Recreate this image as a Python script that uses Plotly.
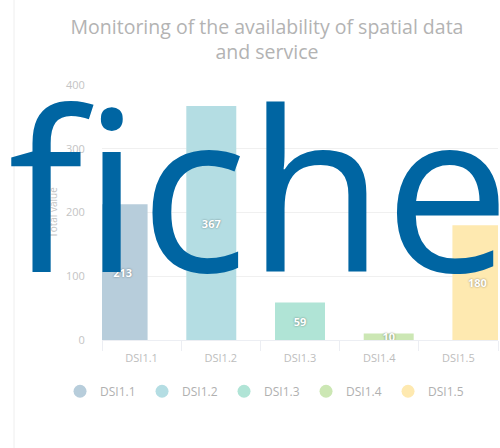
import plotly.graph_objects as go

categories = ["DSI1.1", "DSI1.2", "DSI1.3", "DSI1.4", "DSI1.5"]
values = [213, 367, 59, 10, 180]
colors = ["#b7cddb", "#b4dde3", "#b0e4d6", "#cce7b4", "#fee9b0"]
y_ticks = [0, 100, 200, 300, 400]
title_text = "Monitoring of the availability of spatial data<br>and service"
y_title = "Total value"
overlay_text = "fiche"

# grouping layout (Highcharts-like slots)
bar_width = 0.631
slot_centers = [-0.24, -0.12, 0.0, 0.12, 0.24]

fig = go.Figure()
for i, (cat, val, col) in enumerate(zip(categories, values, colors)):
    fig.add_trace(go.Bar(
        x=[cat], y=[val], name=cat, showlegend=False,
        marker=dict(color=col, line=dict(width=0)),
        width=bar_width, offset=slot_centers[i] - bar_width / 2,
        text=[str(val)], textposition="inside", insidetextanchor="middle",
        constraintext="none", textangle=0,
        textfont=dict(family="Open Sans", size=11, color="white", weight="bold",
                      shadow="0px 0px 2px rgba(0,0,0,0.45)"),
        hoverinfo="skip",
    ))
for cat, col in zip(categories, colors):
    fig.add_trace(go.Scatter(
        x=[None], y=[None], mode="markers", name=cat,
        marker=dict(symbol="circle", size=13, color=col),
    ))

fig.update_layout(
    width=500, height=448,
    margin=dict(l=102, r=2, t=85, b=108, autoexpand=False),
    paper_bgcolor="white", plot_bgcolor="white",
    barmode="overlay",
    font=dict(family="Open Sans", color="#b5b5b5"),
    title=dict(text=title_text, x=0.534, xanchor="center", y=0.924, yanchor="middle",
               font=dict(family="Open Sans", size=19.5, color="#b3b3b3")),
    xaxis=dict(type="category", categoryorder="array", categoryarray=categories,
               range=[-0.5, 4.5], tickson="boundaries", ticks="outside", ticklen=10,
               tickcolor="#eceef3", showline=True, linecolor="#eceef3", linewidth=1,
               showgrid=False, automargin=False, ticklabelstandoff=8,
               tickfont=dict(size=11, color="#bdbdbd")),
    yaxis=dict(range=[0, 400], tickvals=y_ticks, showgrid=True, gridcolor="#f0f0f0",
               zeroline=False, showline=False, ticks="outside", ticklen=10,
               tickcolor="rgba(0,0,0,0)", ticklabelstandoff=4, automargin=False,
               tickfont=dict(size=11, color="#c4c4c4"),
               title=dict(text=y_title, standoff=6, font=dict(size=10, color="#c4c4c4"))),
    legend=dict(orientation="h", x=-0.106, xanchor="left", y=-0.201, yanchor="middle",
                entrywidth=37, entrywidthmode="pixels", itemwidth=30,
                font=dict(size=12, color="#b0b0b0"), traceorder="normal"),
    shapes=[dict(type="line", xref="paper", yref="paper", x0=-0.2222, x1=-0.2222,
                 y0=-0.43, y1=1.34, line=dict(color="#eeeeee", width=1))],
    annotations=[dict(text=overlay_text, xref="paper", yref="paper", x=0.396, y=0.604,
                      xanchor="center", yanchor="middle", showarrow=False,
                      font=dict(family="Open Sans", size=224, color="#0065a2"))],
)

fig.write_html("out.html", post_script="document.body.style.margin='0';",
               config={"displayModeBar": False})
